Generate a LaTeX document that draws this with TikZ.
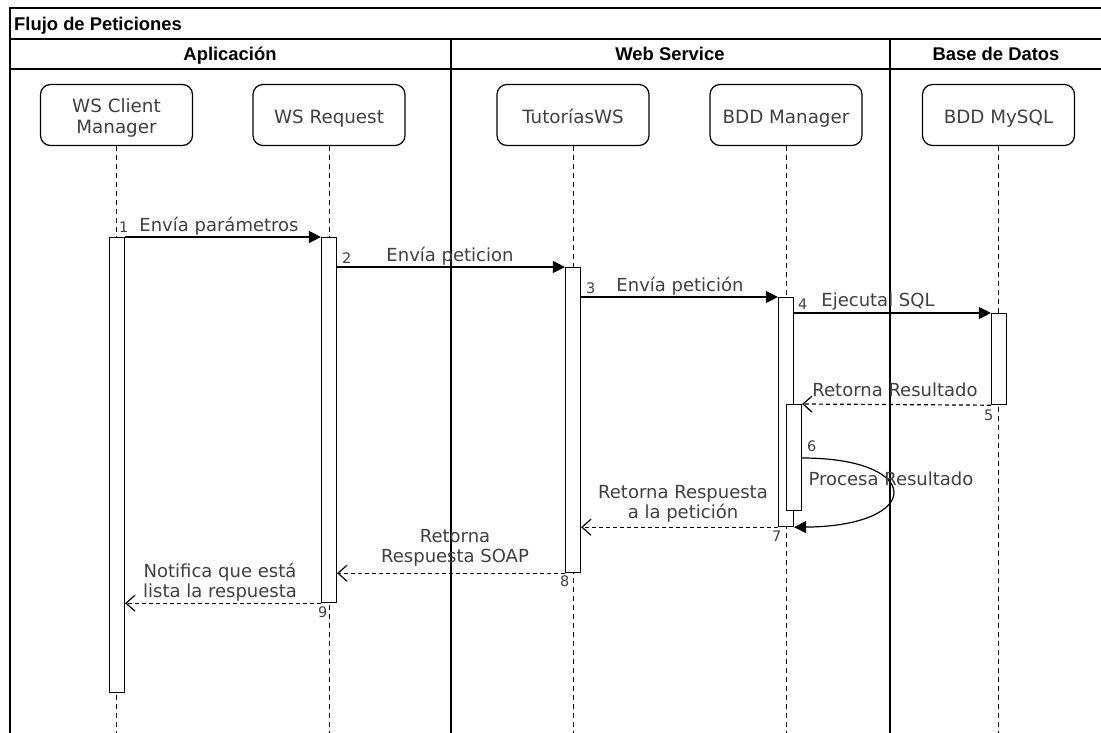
\documentclass[tikz,border=0pt]{standalone}
\usepackage{fontspec}
\setmainfont{DejaVu Sans}
\newfontfamily\hdrfont{Liberation Sans}
\usetikzlibrary{arrows.meta}
\tikzset{
  frame/.style={line width=1.3pt, draw=black},
  part/.style={draw, line width=1.2pt, rounded corners=10pt, minimum width=152pt, minimum height=61pt, inner sep=2pt, font=\fontsize{18.3}{21}\selectfont, text=black!75, text height=22pt, text depth=4pt},
  life/.style={line width=1pt, dash pattern=on 5pt off 4pt},
  bar/.style={draw, line width=1.2pt, fill=white, minimum width=15pt, inner sep=0pt, anchor=north},
  msg/.style={line width=1.2pt, -{Triangle[length=12pt,width=12pt]}},
  ret/.style={line width=1.2pt, dash pattern=on 4pt off 3pt, -{Straight Barb[length=9pt,width=16pt,line width=1.2pt]}},
  lbl/.style={font=\fontsize{18}{19.5}\selectfont, text=black!75, inner sep=0pt},
  num/.style={font=\fontsize{14.5}{16}\selectfont, text=black!75, inner sep=0pt, anchor=base west},
  hdr/.style={font=\hdrfont\bfseries\fontsize{18.4}{20}\selectfont, inner sep=0pt, anchor=base}
}
\begin{document}
\begin{tikzpicture}[x=1pt,y=-1pt]
\useasboundingbox[fill=white] (0,0) rectangle (1101,733);
% frame and lanes
\draw[frame] (10,745) -- (10,8) -- (1115,8);
\draw[frame] (10,39) -- (1115,39);
\draw[frame] (10,69) -- (1115,69);
\draw[frame] (451,39) -- (451,745);
\draw[frame] (890,39) -- (890,745);
\node[hdr, anchor=base west] (title) at (14,31) {Flujo de Peticiones};
\node[hdr] (lane1) at (230,61) {Aplicación};
\node[hdr] (lane2) at (670,61) {Web Service};
\node[hdr] (lane3) at (996,61) {Base de Datos};
% participants
\node[part, text height=14pt, text depth=19.4pt] (p1) at (116.5,115) {\begin{tabular}[t]{@{}c@{}}WS Client\\Manager\end{tabular}};
\node[part] (p2) at (329,115) {WS Request};
\node[part] (p3) at (573,115) {TutoríasWS};
\node[part] (p4) at (786,115) {BDD Manager};
\node[part] (p5) at (998.5,115) {BDD MySQL};
\coordinate (bot) at (0,745);
\foreach \p in {p1,p2,p3,p4,p5} \draw[life] (\p.south) -- (\p.south |- bot);
% activation bars
\node[bar, minimum height=455pt] (a1) at (117,237) {};
\node[bar, minimum height=365pt] (a2) at (329,237) {};
\node[bar, minimum height=305pt] (a3) at (573,267) {};
\node[bar, minimum height=229pt] (a4) at (786,297) {};
\node[bar, minimum height=91pt] (a5) at (999,313) {};
\node[bar, minimum height=106pt] (a6) at (794,404) {};
% messages
\draw[msg] (a1.north east) -- (a2.north west);
\draw[msg] (a2.east |- a3.north) -- (a3.north west);
\draw[msg] (a3.east |- a4.north) -- (a4.north west);
\draw[msg] (a4.east |- a5.north) -- (a5.north west);
\draw[ret] (a5.south west) -- (a6.north east);
\coordinate (s6) at (a6.east |- 0,458);
\draw[msg] (s6) .. controls (924,458) and (924,526) .. (a4.south east);
\draw[ret] (a4.south west) -- (a3.east |- a4.south);
\draw[ret] (a3.south west) -- (a2.east |- a3.south);
\draw[ret] (a2.south west) -- (a1.east |- a2.south);
% labels
\node[lbl, anchor=base] (l1) at (219,231) {Envía parámetros};
\node[num] (n1) at (119,232) {1};
\node[lbl, anchor=base] (l2) at (450,261) {Envía peticion};
\node[num] (n2) at (342,263) {2};
\node[lbl, anchor=base] (l3) at (680,291) {Envía petición};
\node[num] (n3) at (586,293) {3};
\node[lbl, anchor=base] (l4) at (878,306) {Ejecutal SQL};
\node[num] (n4) at (798,309) {4};
\node[lbl, anchor=base] (l5) at (895,396) {Retorna Resultado};
\node[num] (n5) at (984,420) {5};
\node[num] (n6) at (807,451) {6};
\node[lbl, anchor=base] (l6) at (891,485) {Procesa Resultado};
\node[lbl, align=center] (l7) at (683,504) {Retorna Respuesta\\a la petición};
\node[num] (n7) at (772,541) {7};
\node[lbl, align=center] (l8) at (455,548) {Retorna\\Respuesta SOAP};
\node[num] (n8) at (560,586) {8};
\node[lbl, align=center] (l9) at (220,582) {Notifica que está\\lista la respuesta};
\node[num] (n9) at (318,617) {9};
\end{tikzpicture}
\end{document}
